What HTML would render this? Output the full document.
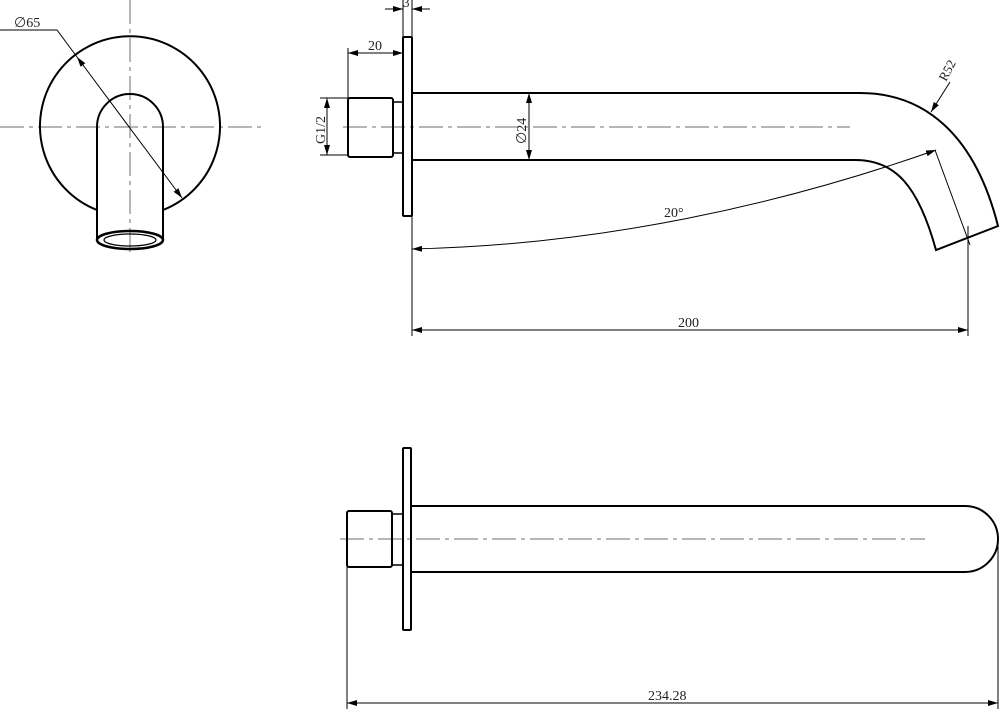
<!DOCTYPE html>
<html><head><meta charset="utf-8"><style>
html,body{margin:0;padding:0;background:#fff;width:1000px;height:709px;overflow:hidden}
svg{display:block}
text{font-family:"Liberation Serif",serif;fill:#222}
</style></head><body>
<svg width="1000" height="709" viewBox="0 0 1000 709" xmlns="http://www.w3.org/2000/svg">
<defs>
<marker id="a" viewBox="0 0 10 6" refX="10" refY="3" markerWidth="10" markerHeight="6" markerUnits="userSpaceOnUse" orient="auto-start-reverse"><path d="M0,0L10,3L0,6z" fill="#000"/></marker>
</defs>
<g fill="none" stroke="#7a6868" stroke-width="1" stroke-dasharray="24,5,4,5">
<line x1="0" y1="127" x2="262" y2="127"/>
<line x1="130" y1="0" x2="130" y2="256"/>
<line x1="343" y1="127" x2="850" y2="127"/>
<line x1="340" y1="539" x2="925" y2="539"/>
</g>
<g fill="none" stroke="#000" stroke-width="2">
<path d="M97,210 A90,90 0 1 1 163,210"/>
<path d="M97,240 V127 A33,33 0 0 1 163,127 V240"/>
<ellipse cx="130" cy="240" rx="33" ry="9" stroke-width="2.5"/>
<ellipse cx="130" cy="240" rx="26" ry="6" stroke-width="1.2"/>
</g>
<g stroke="#000" stroke-width="1" fill="none">
<polyline points="0,30 57,30 77,57"/>
<line x1="77" y1="57" x2="182" y2="198" marker-start="url(#a)" marker-end="url(#a)"/>
</g>
<text x="14" y="27" font-size="14">∅65</text>
<g fill="none" stroke="#000" stroke-width="2">
<rect x="403" y="37" width="9" height="179" rx="1"/>
<rect x="348" y="98" width="45" height="59" rx="2"/>
<rect x="393" y="102" width="10" height="51" stroke-width="1.5"/>
<path d="M412,93 H860 C925,93 975,135 998,226 L936,250 C918,185 895,160 855,160 H412"/>
</g>
<g stroke="#000" stroke-width="1" fill="none">
<line x1="403" y1="0" x2="403" y2="37"/><line x1="412" y1="0" x2="412" y2="37"/>
<line x1="385" y1="9" x2="403" y2="9" marker-end="url(#a)"/>
<line x1="430" y1="9" x2="412" y2="9" marker-end="url(#a)"/>
<line x1="348" y1="48" x2="348" y2="98"/>
<line x1="348" y1="53" x2="403" y2="53" marker-start="url(#a)" marker-end="url(#a)"/>
<line x1="320" y1="98" x2="348" y2="98"/><line x1="320" y1="155" x2="348" y2="155"/>
<line x1="327" y1="98" x2="327" y2="155" marker-start="url(#a)" marker-end="url(#a)"/>
<line x1="529" y1="93" x2="529" y2="160" marker-start="url(#a)" marker-end="url(#a)"/>
<line x1="950" y1="82" x2="931" y2="112" marker-end="url(#a)"/>
<line x1="412" y1="216" x2="412" y2="336"/>
<path d="M412,249 C600,245 780,205 936,150" marker-start="url(#a)" marker-end="url(#a)"/>
<line x1="935" y1="150" x2="970" y2="245"/>
<line x1="968" y1="226" x2="968" y2="336"/>
<line x1="412" y1="330" x2="968" y2="330" marker-start="url(#a)" marker-end="url(#a)"/>
</g>
<text x="368" y="50" font-size="14">20</text>
<text x="403" y="7" font-size="13">3</text>
<text transform="translate(325,144) rotate(-90)" font-size="14">G1/2</text>
<text transform="translate(526,144) rotate(-90)" font-size="14">∅24</text>
<text transform="translate(946,82) rotate(-62)" font-size="13">R52</text>
<text x="664" y="217" font-size="14">20°</text>
<text x="678" y="327" font-size="14">200</text>
<g fill="none" stroke="#000" stroke-width="2">
<rect x="403" y="448" width="8" height="182" rx="1"/>
<rect x="347" y="511" width="45" height="56" rx="2"/>
<rect x="392" y="514" width="11" height="51" stroke-width="1.5"/>
<path d="M411,506 H965 A33,33 0 0 1 965,572 H411"/>
</g>
<g stroke="#000" stroke-width="1" fill="none">
<line x1="347" y1="567" x2="347" y2="709"/>
<line x1="998" y1="545" x2="998" y2="709"/>
<line x1="347" y1="703" x2="998" y2="703" marker-start="url(#a)" marker-end="url(#a)"/>
</g>
<text x="648" y="700" font-size="14">234.28</text>
</svg>
</body></html>
